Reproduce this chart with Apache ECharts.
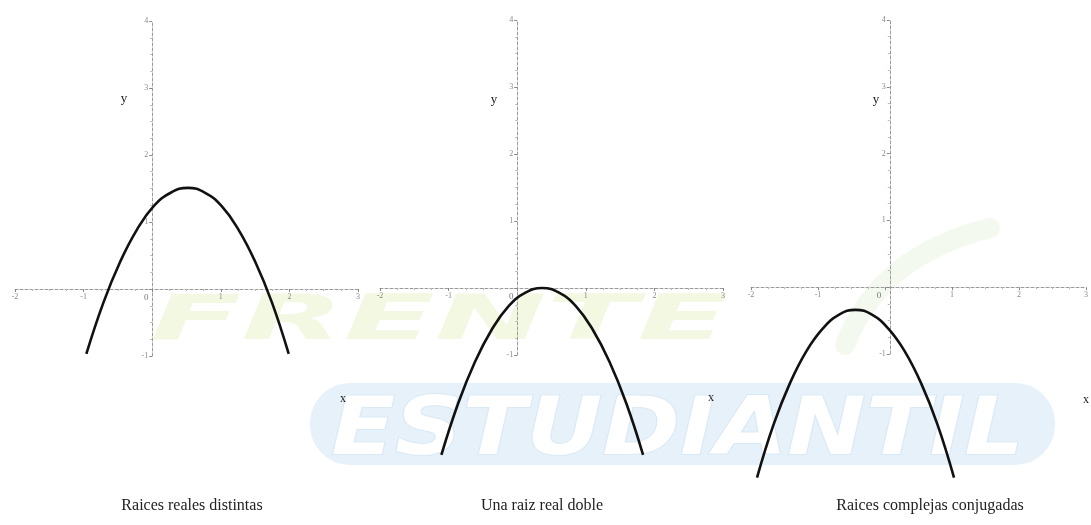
<!DOCTYPE html>
<html>
<head>
<meta charset="utf-8">
<script src="https://cdn.jsdelivr.net/npm/echarts@6/dist/echarts.min.js"></script>
<style>
html,body{margin:0;padding:0;background:#fff;}
#c{width:1091px;height:525px;}
</style>
</head>
<body>
<div id="c"></div>
<script>
// ---- data ----
const titles = ['Raices reales distintas', 'Una raiz real doble', 'Raices complejas conjugadas'];
const xTickMin = -2, xTickMax = 3;
const yTickMin = -1, yTickMax = 4;

const curve1X = [-0.96, -0.71, -0.465, -0.22, 0.025, 0.275, 0.52, 0.765, 1.01, 1.255, 1.5, 1.745, 1.99];
const curve1Y = [-0.97, -0.2, 0.41, 0.89, 1.24, 1.44, 1.51, 1.44, 1.24, 0.89, 0.41, -0.2, -0.97];

const curve2X = [-1.105, -0.86, -0.615, -0.37, -0.125, 0.12, 0.365, 0.61, 0.855, 1.1, 1.345, 1.59, 1.835];
const curve2Y = [-2.49, -1.72, -1.1, -0.62, -0.27, -0.07, 0.0, -0.07, -0.27, -0.62, -1.1, -1.72, -2.49];

const curve3X = [-1.91, -1.665, -1.42, -1.175, -0.93, -0.685, -0.44, -0.195, 0.05, 0.295, 0.54, 0.785, 1.03];
const curve3Y = [-2.85, -2.06, -1.44, -0.96, -0.62, -0.41, -0.34, -0.41, -0.62, -0.96, -1.44, -2.06, -2.85];

const curvesX = [curve1X, curve2X, curve3X];
const curvesY = [curve1Y, curve2Y, curve3Y];

// ---- layout ----
const grids = [
  {left: 15, top: 21, width: 343, height: 335},
  {left: 380, top: 20, width: 343, height: 335},
  {left: 751, top: 20, width: 347, height: 334}
];
const titleCenters = [187, 537, 925];
const xNamePos = [[343, 399], [711, 398], [1086, 400]];
const yNamePos = [[124, 99], [494, 100], [876, 100]];

const axisGrey = '#9a9a9a';
const serif = '"Liberation Serif", "DejaVu Serif", serif';

function xAxisCfg(i) {
  const g = grids[i];
  return {
    type: 'value', gridIndex: i, min: xTickMin, max: xTickMax, interval: 1,
    position: 'bottom',
    offset: -((0 - yTickMin) / (yTickMax - yTickMin)) * g.height,
    axisLine: {onZero: false, lineStyle: {color: axisGrey, width: 1, type: [3, 2]}},
    axisTick: {show: true, length: 3, lineStyle: {color: '#888'}},
    minorTick: {show: true, splitNumber: 4, length: 2, lineStyle: {color: '#bbb'}},
    splitLine: {show: false},
    axisLabel: {
      fontSize: 8, color: '#8a8a8a', fontFamily: serif, margin: 4,
      formatter: v => v === 0 ? '{z|0}' : String(v),
      rich: {z: {fontSize: 9, color: '#777', padding: [0, 12, 0, 0]}}
    }
  };
}
function yAxisCfg(i) {
  const g = grids[i];
  return {
    type: 'value', gridIndex: i, min: yTickMin, max: yTickMax, interval: 1,
    position: 'left',
    offset: -((0 - xTickMin) / (xTickMax - xTickMin)) * g.width,
    axisLine: {onZero: false, lineStyle: {color: axisGrey, width: 1, type: [3, 2]}},
    axisTick: {show: true, length: 3, lineStyle: {color: '#888'}},
    minorTick: {show: true, splitNumber: 4, length: 2, lineStyle: {color: '#bbb'}},
    splitLine: {show: false},
    axisLabel: {
      fontSize: 8, color: '#8a8a8a', fontFamily: serif, margin: 4,
      formatter: v => v === 0 ? '' : String(v)
    }
  };
}

const series = curvesX.map((xs, i) => ({
  type: 'line', xAxisIndex: i, yAxisIndex: i, z: 5,
  data: xs.map((x, k) => [x, curvesY[i][k]]),
  smooth: 0.45, showSymbol: false, clip: false,
  lineStyle: {color: '#111', width: 2.6}
}));

const graphics = [];
// faint watermark
graphics.push({
  type: 'bezierCurve', z: -13,
  shape: {x1: 845, y1: 345, cpx1: 880, cpy1: 255, x2: 990, y2: 228},
  style: {fill: 'none', stroke: '#f4f9f0', lineWidth: 20, lineCap: 'round'}
});
graphics.push({
  type: 'rect', z: -12, shape: {x: 310, y: 383, width: 745, height: 82, r: 40},
  style: {fill: '#e6f1fa'}
});
graphics.push({
  type: 'text', z: -10, left: 150, top: 292, scaleX: 2.15,
  style: {text: 'FRENTE', font: 'italic bold 62px "DejaVu Sans"', fill: '#f2f8e2'}
});
graphics.push({
  type: 'text', z: -10, left: 330, top: 392, scaleX: 1.17,
  style: {text: 'ESTUDIANTIL', font: 'italic bold 80px "DejaVu Sans"', fill: '#ffffff',
          stroke: '#d9e9f6', lineWidth: 2}
});
xNamePos.forEach(p => graphics.push({
  type: 'text', x: p[0], y: p[1], z: 10,
  style: {text: 'x', font: '12px ' + serif, fill: '#222', align: 'center', verticalAlign: 'middle'}
}));
yNamePos.forEach(p => graphics.push({
  type: 'text', x: p[0], y: p[1], z: 10,
  style: {text: 'y', font: '13px ' + serif, fill: '#222', align: 'center', verticalAlign: 'middle'}
}));

const chart = echarts.init(document.getElementById('c'), null, {renderer: 'canvas'});
chart.setOption({
  backgroundColor: '#ffffff',
  animation: false,
  title: titles.map((t, i) => ({
    text: t, left: titleCenters[i], top: 493, textAlign: 'center',
    textStyle: {fontFamily: serif, fontSize: 16, fontWeight: 'normal', color: '#222'}
  })),
  grid: grids,
  xAxis: [0, 1, 2].map(xAxisCfg),
  yAxis: [0, 1, 2].map(yAxisCfg),
  series: series,
  graphic: graphics
});
</script>
</body>
</html>
